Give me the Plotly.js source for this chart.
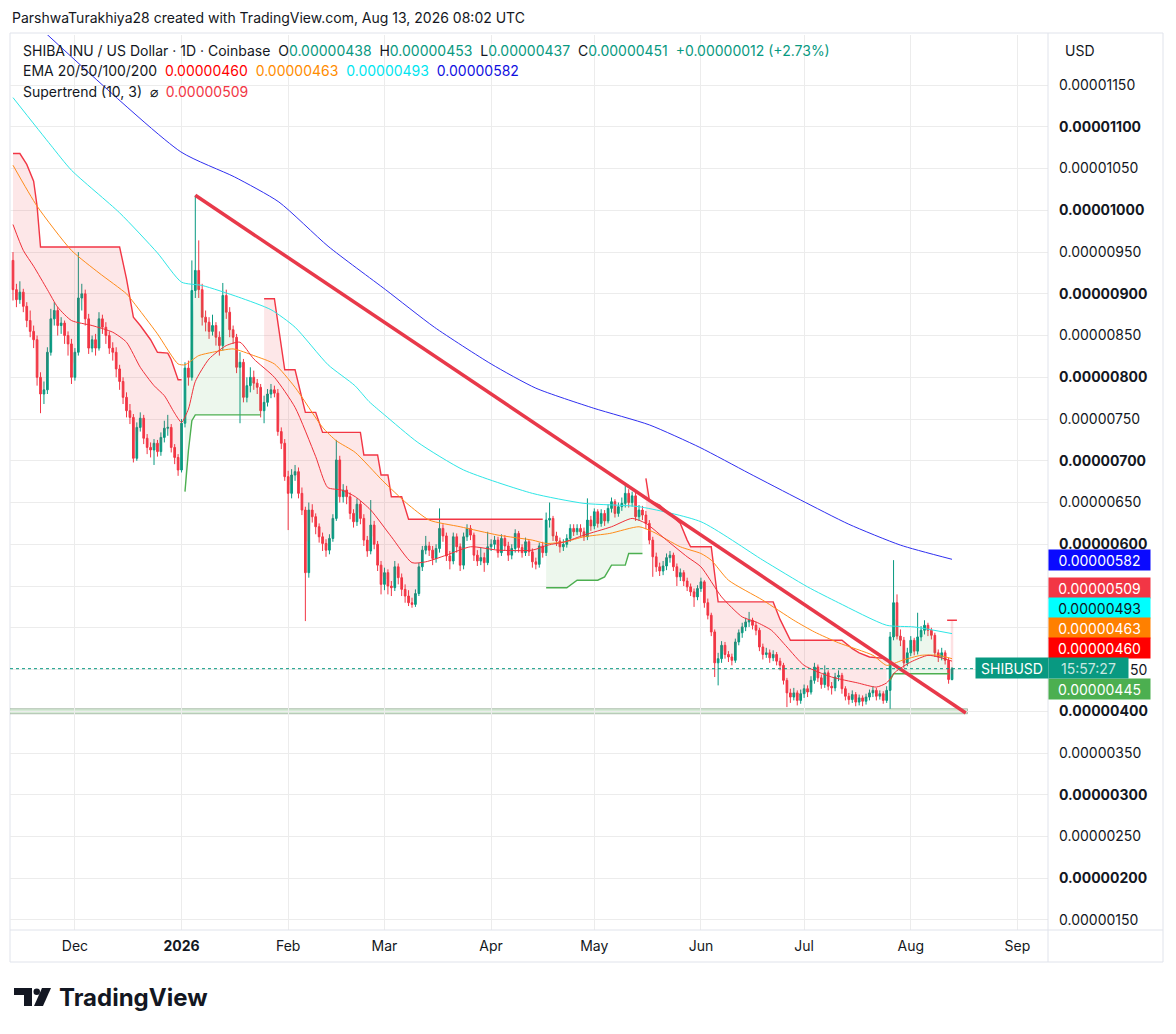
<!DOCTYPE html>
<html><head><meta charset="utf-8">
<script src="https://cdn.plot.ly/plotly-3.0.1.min.js"></script>
<style>html,body{margin:0;padding:0;background:#fff;}#chart{width:1176px;height:1034px;}</style>
</head><body><div id="chart"></div>
<script>
// ---------- DATA (prices in units of 1e-8 USD) ----------
const startDate = '2025-11-13';
const firstOpen = 940;
const closes = [
905,893,902,885,868,855,845,800,780,785,
830,870,880,862,865,850,840,800,830,895,
900,870,835,845,835,870,860,850,835,830,
810,795,776,760,752,703,740,751,727,716,
713,721,711,728,739,740,716,704,689,745,
811,800,904,928,905,872,866,855,862,848,
838,898,878,857,848,812,818,776,790,800,
793,788,760,770,780,785,781,735,721,681,
661,683,687,661,641,566,641,633,621,609,
601,593,607,631,701,657,665,657,637,627,
648,631,605,592,623,600,575,552,566,550,
548,573,560,546,538,530,528,541,573,593,
598,593,583,595,619,610,586,580,609,597,
575,609,619,611,587,580,584,578,597,600,
605,590,607,598,587,595,613,596,590,603,
591,579,576,598,590,629,631,610,604,597,
600,607,619,615,619,615,609,629,622,639,
625,637,628,643,651,637,645,649,661,650,
658,633,641,635,625,605,585,573,568,574,
584,587,573,561,566,556,549,543,537,547,
555,530,515,495,458,463,479,468,465,461,
483,494,501,507,509,503,497,477,468,470,
464,468,460,455,437,422,417,422,413,421,
427,423,437,453,440,432,446,430,428,441,
443,427,418,414,420,411,416,412,417,422,
425,418,421,413,425,489,530,490,485,458,
470,485,472,489,497,503,497,491,470,465,
470,461,438,451];
const highs = [
950,912,915,906,890,880,862,850,806,795,
836,882,890,884,872,868,855,846,835,950,
912,905,876,850,852,878,875,866,855,842,
836,815,800,782,768,756,746,758,755,732,
722,726,725,734,748,755,744,720,708,750,
818,820,940,1018,964,912,880,872,875,866,
855,913,905,884,862,852,830,822,800,812,
808,798,792,778,786,792,790,786,740,726,
688,690,695,692,668,645,650,648,637,625,
614,606,612,636,725,706,672,670,662,642,
655,652,636,610,653,628,604,580,572,570,
556,580,577,565,552,545,536,546,578,598,
610,603,598,600,643,624,614,592,614,613,
601,614,624,623,614,593,596,590,615,606,
610,609,612,611,603,600,618,616,600,608,
606,595,584,602,603,638,650,634,615,608,
606,612,624,624,624,624,620,655,634,643,
642,642,641,648,656,654,650,656,671,666,
663,662,647,646,640,629,609,590,578,580,
589,592,590,577,571,569,560,553,547,551,
560,557,535,518,498,470,484,483,472,469,
487,498,506,512,519,512,507,500,481,476,
474,473,471,464,458,440,427,428,425,426,
432,431,442,458,456,444,455,449,435,446,
449,446,430,422,425,423,420,419,421,426,
430,428,425,424,430,495,581,540,498,489,
476,490,488,518,502,509,506,500,494,474,
476,473,464,453];
const lows = [
892,884,888,878,860,848,835,790,757,768,
780,826,862,850,852,840,826,792,796,826,
880,862,828,830,826,832,852,840,828,820,
800,785,768,752,744,698,700,735,720,708,
704,695,705,706,722,730,710,696,682,686,
740,790,796,895,895,862,855,846,850,838,
826,832,870,848,840,805,745,770,770,782,
785,780,752,745,765,775,776,730,714,676,
617,655,676,655,635,508,560,626,612,602,
592,585,588,603,628,650,650,648,630,620,
622,624,598,585,588,594,568,540,545,540,
538,544,552,538,530,526,524,525,538,568,
588,586,575,578,590,603,580,570,576,590,
568,570,604,605,580,574,575,567,575,592,
594,584,586,592,580,582,590,590,584,586,
586,572,570,572,584,586,620,604,598,590,
592,596,603,610,611,610,604,605,616,618,
620,621,622,625,638,632,633,640,644,644,
645,628,628,629,618,600,561,567,562,563,
569,578,568,550,556,550,544,538,525,533,
543,524,510,490,441,431,458,463,459,455,
458,479,488,496,501,498,491,472,462,464,
458,460,455,449,432,405,410,413,407,409,
416,417,420,433,435,427,428,425,420,424,
436,421,413,408,410,406,407,406,408,413,
417,413,414,409,410,403,485,486,478,452,
454,466,467,468,484,492,490,486,465,459,
461,456,433,437];

// EMA lines (day index from start, value)
const ema20Idx = [0,3,6,10,13,17,23,29,33,37,41,44,47,49,51,53,57,62,66,70,76,82,88,91.5,95.5,99.5,104,110,116,120,126,133,141,151,155.5,160.5,166,174,180,184,190,196,200,206,212,216,220.5,225,230,238,245.5,251,254,256.5,261,266,269,273];
const ema20Val = [983,952,933,905,884,868,862,854,842,812,790,778,757,746,762,795,822,838,842,822,800,764,705,668,665,657,641,609,578,579,587,597,593,593,599,603,611,621,631,625,605,585,573,537,513,507,497,477,455,441,434,429,434,447,459,467,465,460];
const ema50Idx = [0,7,17,25,33,35,42,48,50,54,58,64,70,76,82,90,94,99.5,107.5,114.5,121,130,141,151,155,160.5,166,173.5,182,186,194,200,203,208,218,227,233,240,250,254,258.5,264,269,273];
const ema50Val = [1054,1005,952,925,900,890,852,816,815,826,830,834,826,816,788,740,724,710,676,649,629,621,611,605,601,603,609,613,621,615,597,589,581,557,533,509,495,482,467,455,461,467,467,463];
const ema100Idx = [0,11,17,31,42,49,55,65.6,75,82,91.6,99.4,103.5,108,117.7,131,151,166,182,200,218,231,240,254,262,273];
const ema100Val = [1135,1078,1048,997,949,914,910,896,881,860,815,790,771,755,722,689,661,649,645,627,581,549,530,503,501,493];
const ema200Idx = [9.3,48.8,64.4,77.3,91.6,108.3,122.5,139,152,168.8,185,199.7,214,229,243,258,273];
const ema200Val = [1213,1070,1040,1010,957,905,860,816,787,763,743,716,685,653,624,599,582];

// Supertrend (10,3) segments
const st1Idx = [0,2,4,6,7,8,31,33,35,37,40,42,45,46,48,49];
const st1Val = [1068,1068,1055,1035,1005,956,956,918,872,862,845,830,829,821,797,797];
const st2Idx = [50,51,52,53,72];
const st2Val = [663,712,748,755,755];
const st3Idx = [73,76,79,82,85,88,90,101,102,106,107,109,110,113,115,154];
const st3Val = [894,894,809,809,758,758,734,734,707,707,683,683,657,657,630,630];
const st4Idx = [155,161,164,170,172,174,178,179,183];
const st4Val = [548,548,557,557,561,575,575,589,589];
const st5Idx = [184,185,188,192,194,196,197,203,205,221,223,226,241,244,246,249,254];
const st5Val = [679,653,647,633,625,605,597,597,531,531,510,485,485,475,470,465,463];
const st6Idx = [255,256,272];
const st6Val = [437,445,445];
const st7Idx = [273];
const st7Val = [509];

// Drawings
const trendIdx = [53, 277];
const trendVal = [1018, 398];
const supportVal = 400;
const lastPrice = 451;

// Axis labels
const monthStarts = ['2025-12-01','2026-01-01','2026-02-01','2026-03-01','2026-04-01','2026-05-01','2026-06-01','2026-07-01','2026-08-01','2026-09-01'];
const monthLabels = ['Dec','<b>2026</b>','Feb','Mar','Apr','May','Jun','Jul','Aug','Sep'];
const priceTicks = [150,200,250,300,350,400,450,500,550,600,650,700,750,800,850,900,950,1000,1050,1100,1150];
const hiddenTicks = [450,500,550];   // covered by the value labels in the reference

// Right-side value labels
const sideLabels = [
  {text:'0.00000582', bg:'#0a0aff', fg:'#ffffff'},
  {text:'0.00000509', bg:'#f23645', fg:'#ffffff'},
  {text:'0.00000493', bg:'#00ffff', fg:'#131722'},
  {text:'0.00000463', bg:'#ff8000', fg:'#ffffff'},
  {text:'0.00000460', bg:'#ff0000', fg:'#ffffff'},
  {text:'0.00000445', bg:'#4caf50', fg:'#ffffff'}
];

// ---------- BUILD ----------
const idx = closes.map((_, i) => i);
const opens = closes.map((c, i) => i === 0 ? firstOpen : closes[i - 1]);
const bodyMid = closes.map((c, i) => (opens[i] + c) / 2);
const DAY = 86400000;
const monthIdx = monthStarts.map(d => Math.round((Date.parse(d) - Date.parse(startDate)) / DAY));

const RED = '#f23645', GREEN = '#4caf50', TEAL = '#089981';
const traces = [];

function stSegment(sx, sy, up) {
  const a = Math.floor(sx[0]), b = Math.ceil(sx[sx.length - 1]);
  const mx = [], my = [];
  for (let i = a; i <= b; i++) { mx.push(i); my.push(bodyMid[i]); }
  traces.push({type:'scatter', mode:'lines', x:mx, y:my, line:{width:0, color:'rgba(0,0,0,0)'}, hoverinfo:'skip', showlegend:false});
  traces.push({type:'scatter', mode:'lines', x:sx, y:sy, fill:'tonexty',
    fillcolor: up ? 'rgba(76,175,80,0.10)' : 'rgba(242,54,69,0.12)',
    line:{width:1.4, color: up ? GREEN : RED}, hoverinfo:'skip', showlegend:false});
}
stSegment(st1Idx, st1Val, false);
stSegment(st2Idx, st2Val, true);
stSegment(st3Idx, st3Val, false);
stSegment(st4Idx, st4Val, true);
stSegment(st5Idx, st5Val, false);
stSegment(st6Idx, st6Val, true);
traces.push({type:'scatter', mode:'lines', x:[st7Idx[0], st7Idx[0]], y:[st7Val[0], bodyMid[st7Idx[0]]],
  line:{width:2.5, color:'rgba(242,54,69,0.15)'}, hoverinfo:'skip', showlegend:false});
traces.push({type:'scatter', mode:'markers', x:st7Idx, y:st7Val,
  marker:{symbol:'line-ew', size:7, line:{width:1.5, color:RED}}, hoverinfo:'skip', showlegend:false});

function ema(x, y, color) {
  traces.push({type:'scatter', mode:'lines', x:x, y:y, line:{width:1, color:color, shape:'spline', smoothing:0.6}, hoverinfo:'skip', showlegend:false});
}
ema(ema200Idx, ema200Val, '#2f2ff0');
ema(ema100Idx, ema100Val, '#2ee6e6');
ema(ema50Idx, ema50Val, '#ff8c1a');
ema(ema20Idx, ema20Val, '#f0303a');

traces.push({type:'scatter', mode:'lines', x:trendIdx, y:trendVal, line:{width:3.5, color:'#e8394a'}, hoverinfo:'skip', showlegend:false});

traces.push({type:'candlestick', x:idx, open:opens, high:highs, low:lows, close:closes,
  increasing:{line:{color:TEAL, width:1}, fillcolor:TEAL},
  decreasing:{line:{color:RED, width:1}, fillcolor:RED},
  whiskerwidth:0, hoverinfo:'skip', showlegend:false});

// pixel helpers for layout placement
const PL = 10, PR = 1048, PT = 35, PB = 930;
const px = x => (x - PL) / (PR - PL);
const py = y => (PB - y) / (PB - PT);

const FONT = 'Inter, "Open Sans", sans-serif';
const NB = '\u00a0';
const ann = [];
ann.push({xref:'paper', yref:'paper', x:px(10), y:py(18), xanchor:'left', yanchor:'middle', showarrow:false,
  text:'ParshwaTurakhiya28 created with TradingView.com, Aug 13, 2026 08:02 UTC', font:{size:14, color:'#131722'}});
const g = t => '<span style="color:' + TEAL + '">' + t + '</span>';
ann.push({xref:'paper', yref:'paper', x:px(21), y:py(50), xanchor:'left', yanchor:'middle', showarrow:false,
  text:'SHIBA INU / US Dollar · 1D · Coinbase' + NB+NB + 'O' + g('0.00000438') + NB+NB + 'H' + g('0.00000453') + NB+NB + 'L' + g('0.00000437') + NB+NB + 'C' + g('0.00000451') + NB+NB + g('+0.00000012 (+2.73%)'),
  font:{size:14, color:'#131722'}});
ann.push({xref:'paper', yref:'paper', x:px(21), y:py(71), xanchor:'left', yanchor:'middle', showarrow:false,
  text:'EMA 20/50/100/200' + NB+NB + '<span style="color:#ff0000">0.00000460</span>' + NB+NB + '<span style="color:#ff8c00">0.00000463</span>' + NB+NB + '<span style="color:#00e5f0">0.00000493</span>' + NB+NB + '<span style="color:#1010e0">0.00000582</span>',
  font:{size:14, color:'#131722'}});
ann.push({xref:'paper', yref:'paper', x:px(21), y:py(91), xanchor:'left', yanchor:'middle', showarrow:false,
  text:'Supertrend (10, 3)' + NB+NB + '⌀' + NB+NB + '<span style="color:#f23645">0.00000509</span>',
  font:{size:14, color:'#131722'}});
ann.push({xref:'paper', yref:'paper', x:px(1063), y:py(51), xanchor:'left', yanchor:'middle', showarrow:false,
  text:'USD', font:{size:14, color:'#131722'}});

const labelY = [560, 588, 608, 628, 648, 689];
sideLabels.forEach((s, k) => {
  ann.push({xref:'paper', yref:'paper', x:px(1048), y:py(labelY[k]), xanchor:'left', yanchor:'middle', showarrow:false,
    text:s.text, bgcolor:s.bg, font:{size:14, color:s.fg}, width:95, height:14, borderpad:3, align:'center'});
});
ann.push({xref:'paper', yref:'paper', x:px(975), y:py(668), xanchor:'left', yanchor:'middle', showarrow:false,
  text:'SHIBUSD', bgcolor:TEAL, font:{size:14, color:'#ffffff'}, width:66, height:14, borderpad:3, align:'center'});
ann.push({xref:'paper', yref:'paper', x:px(1048), y:py(668), xanchor:'left', yanchor:'middle', showarrow:false,
  text:'15:57:27', bgcolor:TEAL, font:{size:14, color:'rgba(255,255,255,0.78)'}, width:73, height:14, borderpad:3, align:'center'});
// visible tail of the 0.00000450 tick label peeking out from under the time box
ann.push({xref:'paper', yref:'paper', x:px(1128), y:py(669), xanchor:'left', yanchor:'middle', showarrow:false,
  text:'50', font:{size:14, color:'#131722'}});
ann.push({xref:'paper', yref:'paper', x:px(57), y:py(998), xanchor:'left', yanchor:'middle', showarrow:false,
  text:'<b>TradingView</b>', font:{size:24, color:'#131722', family:FONT}});

const P = (x, y) => px(x) + ',' + py(y);
const shapes = [
  {type:'rect', xref:'paper', yref:'paper', x0:px(10), x1:px(1163), y0:py(962), y1:py(33), line:{color:'#e0e3eb', width:1}, layer:'below'},
  {type:'line', xref:'paper', yref:'paper', x0:1, x1:1, y0:py(962), y1:py(33), line:{color:'#e0e3eb', width:1}},
  {type:'line', xref:'paper', yref:'paper', x0:0, x1:px(1163), y0:0, y1:0, line:{color:'#e0e3eb', width:1}},
  {type:'rect', xref:'x', yref:'y', x0:-1, x1:277.5, y0:supportVal - 3, y1:supportVal + 3, fillcolor:'rgba(200,228,200,0.75)', line:{color:'rgba(150,170,150,0.7)', width:1}, layer:'below'},
  {type:'line', xref:'paper', yref:'y', x0:0, x1:1, y0:lastPrice, y1:lastPrice, line:{color:TEAL, width:1, dash:'dot'}},
  {type:'path', xref:'paper', yref:'paper', path:'M' + P(14,988) + ' L' + P(32,988) + ' L' + P(32,1006) + ' L' + P(24,1006) + ' L' + P(24,995) + ' L' + P(14,995) + ' Z', fillcolor:'#131722', line:{width:0}},
  {type:'circle', xref:'paper', yref:'paper', x0:px(33.5), x1:px(40), y0:py(988.5), y1:py(995), fillcolor:'#131722', line:{width:0}},
  {type:'path', xref:'paper', yref:'paper', path:'M' + P(42,988) + ' L' + P(51,988) + ' L' + P(43,1006) + ' L' + P(34,1006) + ' Z', fillcolor:'#131722', line:{width:0}}
];

const layout = {
  width:1176, height:1034,
  margin:{l:PL, r:1176 - PR, t:PT, b:1034 - PB},
  paper_bgcolor:'#ffffff', plot_bgcolor:'#ffffff',
  font:{family:FONT, color:'#131722', size:14},
  showlegend:false, hovermode:false,
  xaxis:{type:'linear', range:[-0.87, 300.9], tickvals:monthIdx, ticktext:monthLabels,
    showgrid:true, gridcolor:'#ececec', gridwidth:1, zeroline:false, showline:false, ticks:'',
    tickfont:{size:14, color:'#131722'}, ticklabelstandoff:6, rangeslider:{visible:false}, fixedrange:true},
  yaxis:{side:'right', range:[138, 1210], tickvals:priceTicks,
    ticktext:priceTicks.map(v => {
      if (hiddenTicks.indexOf(v) >= 0) return '';
      const s = (v / 1e8).toFixed(8); return v % 100 === 0 ? '<b>' + s + '</b>' : s; }),
    showgrid:true, gridcolor:'#ececec', gridwidth:1, zeroline:false, showline:false, ticks:'',
    tickfont:{size:14, color:'#131722'}, ticklabelstandoff:10, fixedrange:true},
  annotations:ann,
  shapes:shapes
};
Plotly.newPlot('chart', traces, layout, {staticPlot:true, displayModeBar:false});
</script>
</body></html>
